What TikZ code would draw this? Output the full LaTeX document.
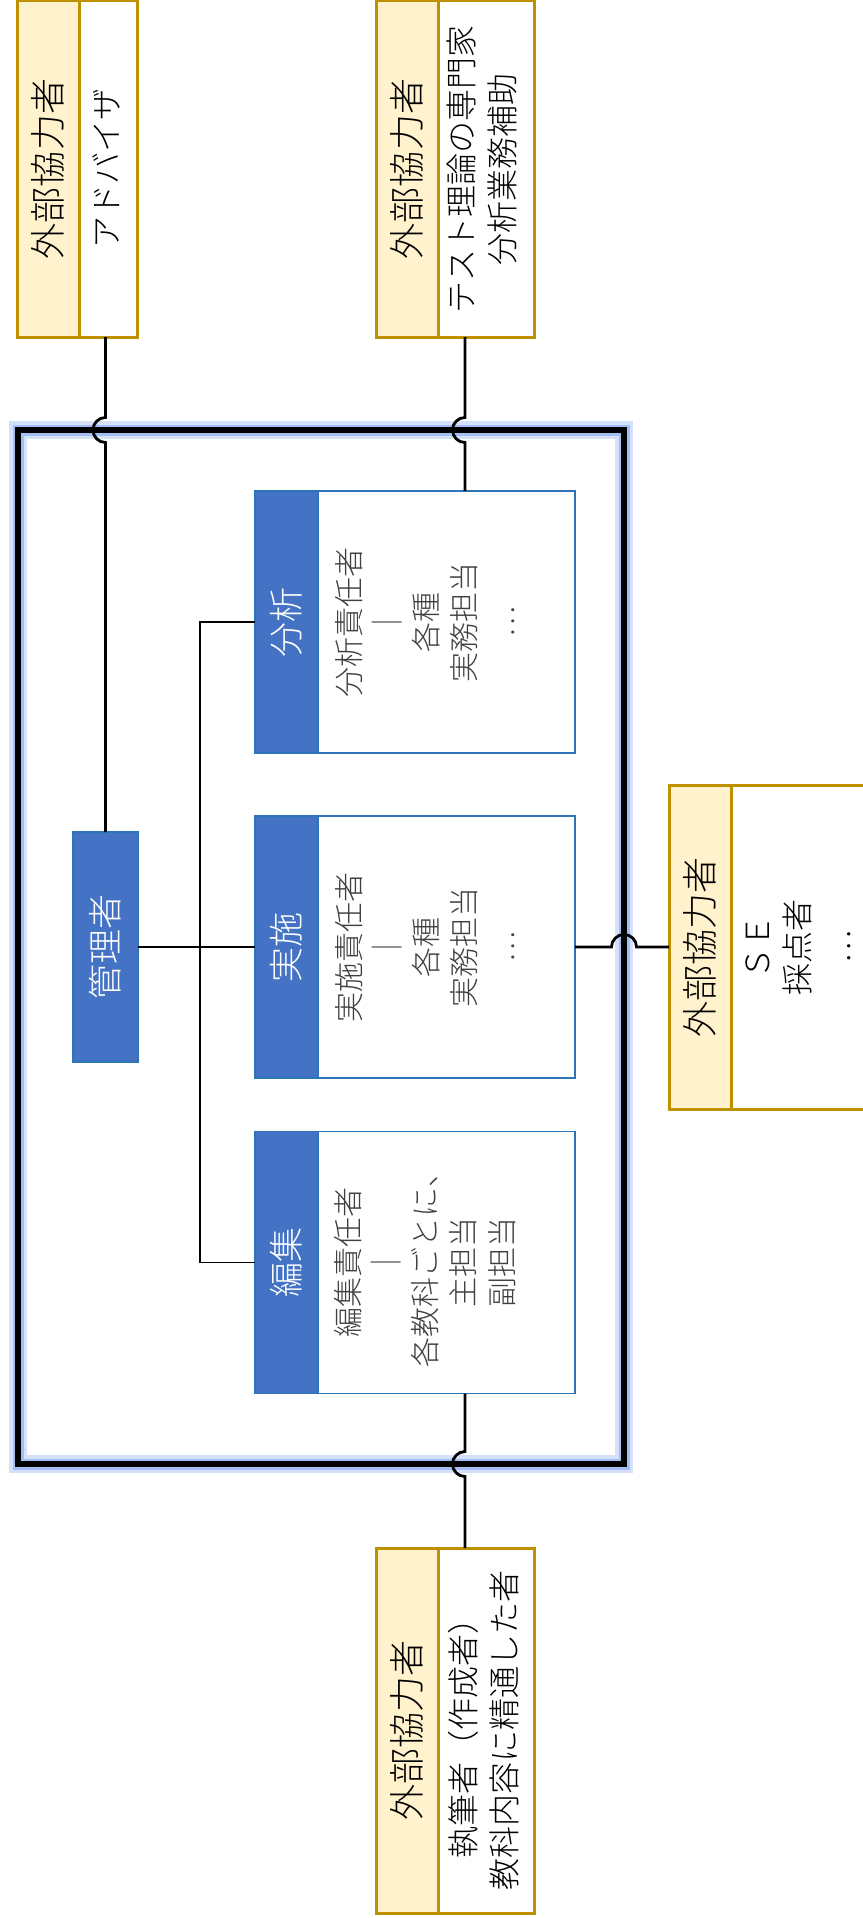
\documentclass[tikz,border=0pt]{standalone}
\usepackage{fontspec}
\setmainfont{Noto Sans CJK JP}[UprightFont={* Light}]
\usetikzlibrary{positioning}
\definecolor{hdblue}{HTML}{4472C4}
\definecolor{bxline}{HTML}{2E75B6}
\definecolor{extfill}{HTML}{FFF2CC}
\definecolor{extline}{HTML}{BF9000}
\definecolor{glowin}{HTML}{A2BEF2}
\definecolor{glowout}{HTML}{D4E1F9}
\definecolor{txtgray}{HTML}{404040}

\begin{document}
\begin{tikzpicture}[x=1pt, y=1pt,
  hdbox/.style={draw=bxline, fill=hdblue, line width=1.5pt, minimum width=63pt, minimum height=262pt, outer sep=0pt, inner sep=0pt},
  bodybox/.style={draw=bxline, fill=white, line width=1.5pt, minimum width=257pt, minimum height=262pt, outer sep=0pt, inner sep=0pt},
  extstrip/.style={draw=extline, fill=extfill, line width=3pt, minimum width=62pt, outer sep=0pt, inner sep=0pt},
  extbody/.style={draw=extline, fill=white, line width=3pt, outer sep=0pt, inner sep=0pt},
  frame/.style={draw=black, line width=6.5pt, minimum width=606pt, minimum height=1034pt, outer sep=0pt, inner sep=0pt,
    preaction={draw=glowout, line width=18pt}, preaction={draw=glowin, line width=11pt}},
  hdtext/.style={rotate=90, text=white, font=\fontsize{35}{40}\selectfont},
  bodytext/.style={rotate=90, text=txtgray, align=center, font=\fontsize{30}{38.5}\selectfont},
  exttitle/.style={rotate=90, font=\fontsize{36}{40}\selectfont},
  exttext/.style={rotate=90, align=center, font=\fontsize{32}{41}\selectfont},
  conn/.style={draw=black, line width=2.8pt},
  tree/.style={draw=black, line width=1.6pt}
]
\useasboundingbox (0,0) rectangle (862,-1918);

% outer frame
\node[frame] (frame) at (321,-947) {};

% manager
\node[hdbox, minimum width=65pt, minimum height=230pt] (kanri) at (105.5,-947) {};
\node[hdtext] (kanriT) at (kanri) {管理者};

% groups
\node[hdbox] (fh) at (286.5,-622) {};
\node[bodybox, right=0pt of fh] (fb) {};
\node[hdtext] (fhT) at (fh) {分析};
\node[bodytext] (fbT) at ([xshift=-21.5pt]fb.center) {分析責任者\\｜\\各種\\実務担当\\…};

\node[hdbox] (jh) at (286.5,-947) {};
\node[bodybox, right=0pt of jh] (jb) {};
\node[hdtext] (jhT) at (jh) {実施};
\node[bodytext] (jbT) at ([xshift=-21.5pt]jb.center) {実施責任者\\｜\\各種\\実務担当\\…};

\node[hdbox] (eh) at (286.5,-1262.5) {};
\node[bodybox, right=0pt of eh] (eb) {};
\node[hdtext] (ehT) at (eh) {編集};
\node[bodytext] (ebT) at ([xshift=-21.5pt]eb.center) {編集責任者\\｜\\各教科ごとに、\\主担当\\副担当};

% external partners
\node[extstrip, minimum height=336pt] (tls) at (48,-169) {};
\node[extbody, minimum width=58pt, minimum height=336pt, right=0pt of tls] (tlb) {};
\node[exttitle] (tlsT) at (tls) {外部協力者};
\node[exttext] (tlbT) at ([xshift=-2pt]tlb.center) {アドバイザ};

\node[extstrip, minimum height=336pt] (trs) at (407,-169) {};
\node[extbody, minimum width=96pt, minimum height=336pt, right=0pt of trs] (trb) {};
\node[exttitle] (trsT) at (trs) {外部協力者};
\node[exttext] (trbT) at ([xshift=-4pt]trb.center) {テスト理論の専門家\\分析業務補助};

\node[extstrip, minimum height=324pt] (rs) at (700,-947) {};
\node[extbody, minimum width=135pt, minimum height=324pt, right=0pt of rs] (rb) {};
\node[exttitle] (rsT) at (rs) {外部協力者};
\node[exttext, font=\fontsize{32}{40.5}\selectfont] (rbT) at ([xshift=-0.5pt]rb.center) {ＳＥ\\採点者\\…};

\node[extstrip, minimum height=365pt] (bs) at (407,-1730.5) {};
\node[extbody, minimum width=96pt, minimum height=365pt, right=0pt of bs] (bb) {};
\node[exttitle] (bsT) at (bs) {外部協力者};
\node[exttext] (bbT) at ([xshift=-2.5pt]bb.center) {執筆者（作成者）\\教科内容に精通した者};

% connectors
\coordinate (fx) at ([xshift=18.5pt]fb.north);
\coordinate (ex) at ([xshift=18.5pt]eb.south);
\draw[tree] (kanri.east) -- (jh.west);
\draw[tree] (fh.west) -- ++(-55,0) |- (eh.west);
\draw[conn] (tlb.south -| kanri.north) -- ([yshift=12.5pt]kanri.north |- frame.north) arc[start angle=90, end angle=270, radius=12.5pt] -- (kanri.north);
\draw[conn] (fx |- trb.south) -- ([yshift=12.5pt]fx |- frame.north) arc[start angle=90, end angle=270, radius=12.5pt] -- (fx);
\draw[conn] (ex) -- ([yshift=12.5pt]ex |- frame.south) arc[start angle=90, end angle=270, radius=12.5pt] -- (ex |- bb.north);
\draw[conn] (jb.east) -- ([xshift=-12.5pt]frame.east |- jb.east) arc[start angle=180, end angle=0, radius=12.5pt] -- (rs.west |- jb.east);
\end{tikzpicture}
\end{document}
